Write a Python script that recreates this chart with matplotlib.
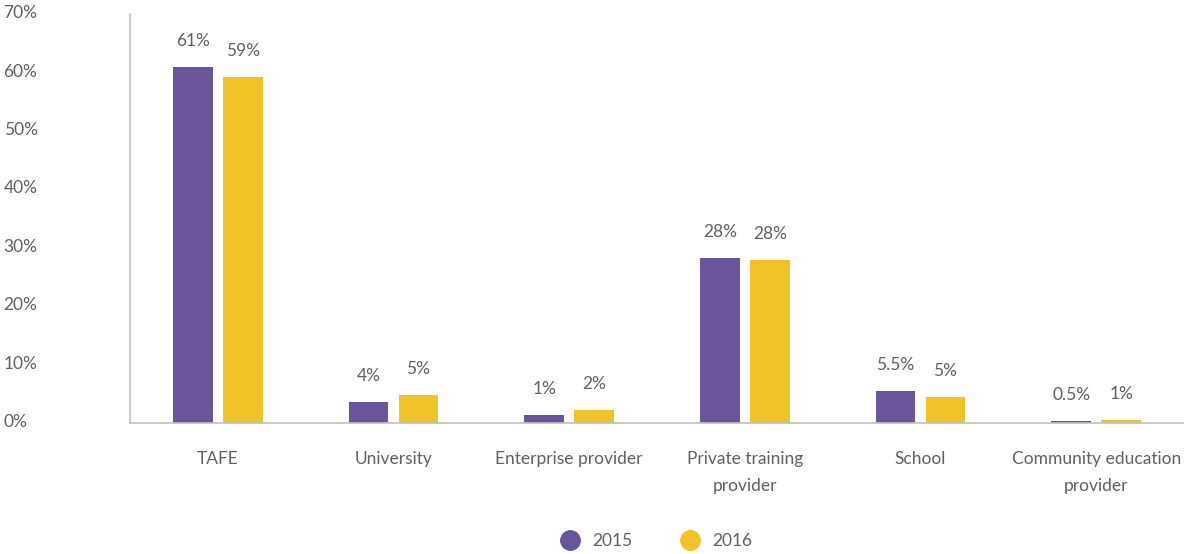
import numpy as np
import matplotlib.pyplot as plt
import matplotlib.transforms as mtransforms
from matplotlib.lines import Line2D

plt.rcParams['font.family'] = ['Lato', 'DejaVu Sans']

categories = ["TAFE", "University", "Enterprise provider",
              "Private training\nprovider", "School", "Community education\nprovider"]
vals_2015 = [60.9, 3.6, 1.4, 28.3, 5.4, 0.4]
vals_2016 = [59.2, 4.8, 2.2, 27.9, 4.5, 0.5]
labels_2015 = ["61%", "4%", "1%", "28%", "5.5%", "0.5%"]
labels_2016 = ["59%", "5%", "2%", "28%", "5%", "1%"]
yticks = [0, 10, 20, 30, 40, 50, 60, 70]

purple = "#6a559b"
yellow = "#f2c329"
grey = "#606060"

fig = plt.figure(figsize=(11.84, 5.54), dpi=100)
ax = fig.add_axes([0.1098, 0.2365, 0.8902, 0.7382])

x = np.arange(len(categories))
w = 0.227
off = 0.142
b1 = ax.bar(x - off, vals_2015, w, color=purple)
b2 = ax.bar(x + off, vals_2016, w, color=yellow)

for bars, labs in ((b1, labels_2015), (b2, labels_2016)):
    for bar, lab in zip(bars, labs):
        ax.annotate(lab, (bar.get_x() + bar.get_width() / 2, bar.get_height()),
                    xytext=(0, 13), textcoords="offset points",
                    ha="center", va="bottom", fontsize=12.5, color=grey)

ax.set_xlim(-0.5, len(categories) - 0.5)
ax.set_ylim(0, 70)
ax.set_xticks(x)
ax.set_xticklabels(categories, fontsize=12.5, color=grey, linespacing=1.9)
ax.set_yticks(yticks)
ax.set_yticklabels([f"{t}%" for t in yticks], fontsize=12.5, color=grey,
                   ha="left", va="baseline")
ax.tick_params(axis="y", length=0, pad=91)
ax.tick_params(axis="x", length=0, pad=20)
shift = mtransforms.ScaledTranslation(0, -3 / 72, fig.dpi_scale_trans)
for lab in ax.get_yticklabels():
    lab.set_transform(lab.get_transform() + shift)

for s in ("top", "right"):
    ax.spines[s].set_visible(False)
for s in ("left", "bottom"):
    ax.spines[s].set_color("#c0c0c0")
    ax.spines[s].set_linewidth(1.2)

handles = [Line2D([], [], marker="o", linestyle="", markersize=14, color=purple),
           Line2D([], [], marker="o", linestyle="", markersize=14, color=yellow)]
fig.legend(handles, ["2015", "2016"], loc="center", bbox_to_anchor=(0.551, 0.023),
           ncol=2, frameon=False, fontsize=12.5, labelcolor=grey,
           handletextpad=0.3, columnspacing=2.3)

fig.savefig("out.png", dpi=100)
